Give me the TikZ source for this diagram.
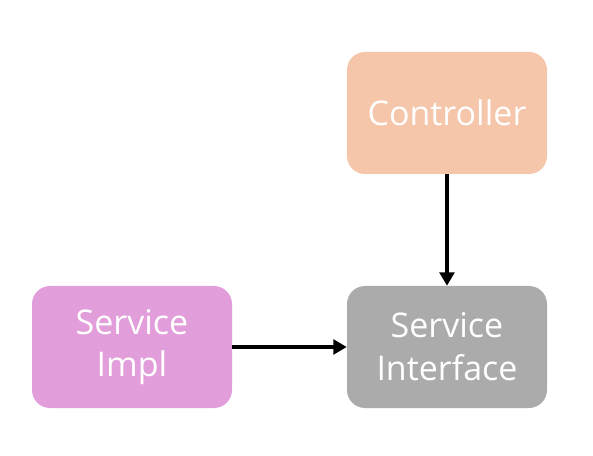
\documentclass[tikz,border=0pt]{standalone}
\usepackage{fontspec}
\setmainfont{Open Sans}
\usetikzlibrary{arrows.meta}
\definecolor{ctrlc}{HTML}{F5C6AA}
\definecolor{implc}{HTML}{E29EDB}
\definecolor{intfc}{HTML}{ABABAB}
\tikzset{
  box/.style={rounded corners=13.5pt, minimum width=150pt, minimum height=91.5pt,
    inner sep=0pt, text=white, align=center,
    font=\fontsize{25.5}{32}\selectfont},
  conn/.style={line width=3.4pt, -{Triangle[length=10pt,width=11pt]}}
}
\begin{document}
\begin{tikzpicture}[x=0.75pt,y=-0.75pt]
\useasboundingbox (0,0) rectangle (593,456);
\node[box, fill=ctrlc] (ctrl) at (447,113) {Controller};
\node[box, fill=implc] (impl) at (132,347) {Service\\Impl};
\node[box, fill=intfc] (intf) at (447,347) {Service\\Interface};
\draw[conn] (ctrl) -- (intf);
\draw[conn] (impl) -- (intf);
\end{tikzpicture}
\end{document}
